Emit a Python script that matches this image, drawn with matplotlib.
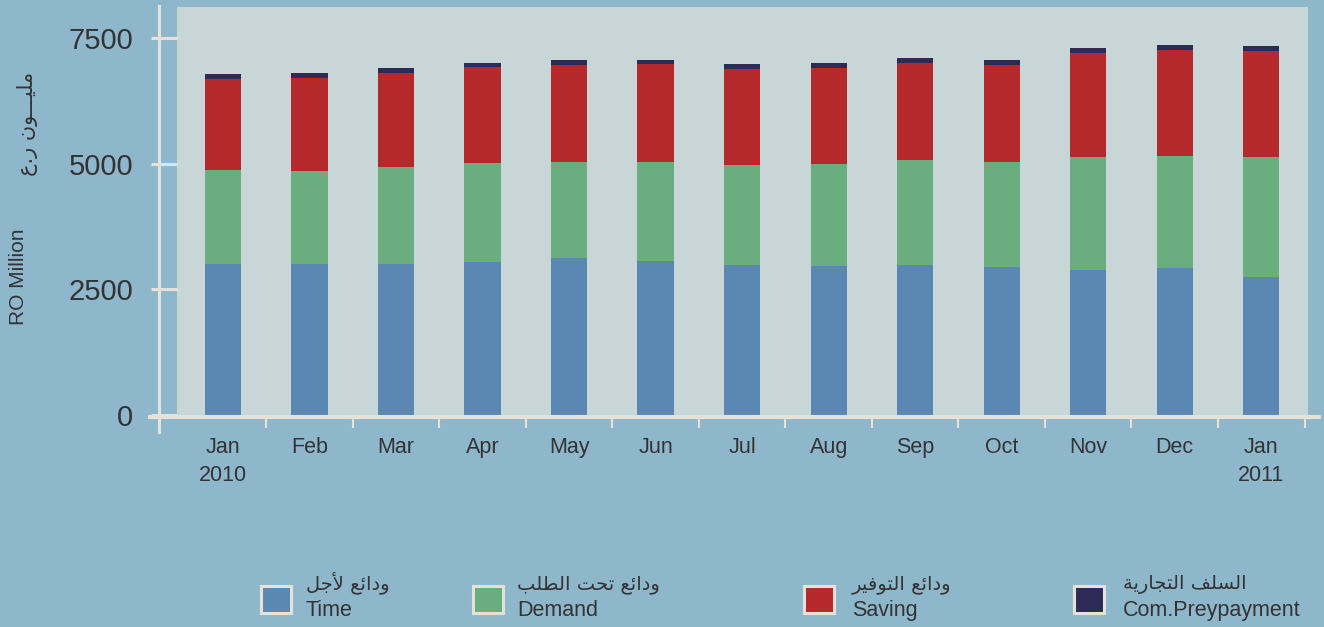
import matplotlib
matplotlib.use("Agg")
import matplotlib.pyplot as plt
from matplotlib.lines import Line2D
from matplotlib.patches import Rectangle
import numpy as np

# data (RO million)
months = ["Jan\n2010", "Feb", "Mar", "Apr", "May", "Jun", "Jul",
          "Aug", "Sep", "Oct", "Nov", "Dec", "Jan\n2011"]
time_dep = [3010, 3010, 3010, 3050, 3130, 3070, 2990, 2970, 2990, 2950, 2890, 2930, 2750]
demand = [1860, 1850, 1920, 1960, 1900, 1960, 1980, 2020, 2080, 2080, 2240, 2220, 2380]
saving = [1810, 1850, 1870, 1920, 1940, 1960, 1920, 1920, 1940, 1940, 2080, 2120, 2120]
com_prepay = [100, 100, 100, 80, 100, 80, 100, 100, 100, 100, 100, 100, 100]

series_en = ["Time", "Demand", "Saving", "Com.Preypayment"]
series_ar = ["ودائع لأجل", "ودائع تحت الطلب", "ودائع التوفير", "السلف التجارية"]
colors = ["#5b88b2", "#6aad7e", "#b5292c", "#2d2a55"]

BG = "#8fb7cc"
PANEL = "#c8d6d8"
CREAM = "#e6e2d8"
TXT = "#333333"

# --- tiny Arabic shaper (matplotlib does no shaping / bidi) ---
FORMS = {
    'ا': ('\uFE8D', '\uFE8E', None, None),
    'أ': ('\uFE83', '\uFE84', None, None),
    'ب': ('\uFE8F', '\uFE90', '\uFE91', '\uFE92'),
    'ة': ('\uFE93', '\uFE94', None, None),
    'ت': ('\uFE95', '\uFE96', '\uFE97', '\uFE98'),
    'ج': ('\uFE9D', '\uFE9E', '\uFE9F', '\uFEA0'),
    'ح': ('\uFEA1', '\uFEA2', '\uFEA3', '\uFEA4'),
    'د': ('\uFEA9', '\uFEAA', None, None),
    'ر': ('\uFEAD', '\uFEAE', None, None),
    'س': ('\uFEB1', '\uFEB2', '\uFEB3', '\uFEB4'),
    'ط': ('\uFEC1', '\uFEC2', '\uFEC3', '\uFEC4'),
    'ع': ('\uFEC9', '\uFECA', '\uFECB', '\uFECC'),
    'ف': ('\uFED1', '\uFED2', '\uFED3', '\uFED4'),
    'ل': ('\uFEDD', '\uFEDE', '\uFEDF', '\uFEE0'),
    'م': ('\uFEE1', '\uFEE2', '\uFEE3', '\uFEE4'),
    'ن': ('\uFEE5', '\uFEE6', '\uFEE7', '\uFEE8'),
    'و': ('\uFEED', '\uFEEE', None, None),
    'ي': ('\uFEF1', '\uFEF2', '\uFEF3', '\uFEF4'),
    'ئ': ('\uFE89', '\uFE8A', '\uFE8B', '\uFE8C'),
    'ـ': ('ـ', 'ـ', 'ـ', 'ـ'),
}
LAM_ALEF = {'ا': ('\uFEFB', '\uFEFC'), 'أ': ('\uFEF7', '\uFEF8')}


def shape(text):
    out = []
    i = 0
    prev_joins = False
    while i < len(text):
        c = text[i]
        if c not in FORMS:
            out.append(c)
            prev_joins = False
            i += 1
            continue
        if c == 'ل' and i + 1 < len(text) and text[i + 1] in LAM_ALEF:
            out.append(LAM_ALEF[text[i + 1]][1 if prev_joins else 0])
            prev_joins = False
            i += 2
            continue
        nxt = text[i + 1] if i + 1 < len(text) else ''
        to_next = FORMS[c][2] is not None and nxt in FORMS
        if prev_joins and to_next:
            f = FORMS[c][3]
        elif prev_joins:
            f = FORMS[c][1]
        elif to_next:
            f = FORMS[c][2]
        else:
            f = FORMS[c][0]
        out.append(f)
        prev_joins = to_next
        i += 1
    return ''.join(reversed(out))


plt.rcParams['font.family'] = ['Liberation Sans', 'DejaVu Sans']
AR_FONT = ['DejaVu Sans']

W, H = 1324, 627
fig = plt.figure(figsize=(W / 100, H / 100), dpi=100, facecolor=BG)


def fx(x):
    return x / W


def fy(y):
    return 1 - y / H


ax = fig.add_axes([fx(177), fy(415), fx(1308) - fx(177), fy(7) - fy(415)])
ax.set_facecolor(PANEL)

x = np.arange(len(months))
bottom = np.zeros(len(months))
for vals, col in zip([time_dep, demand, saving, com_prepay], colors):
    ax.bar(x, vals, 0.42, bottom=bottom, color=col, zorder=2)
    bottom += np.array(vals)

ax.set_xlim(-0.532, 12.54)
ax.set_ylim(0, 8120)
for s in ax.spines.values():
    s.set_visible(False)

ax.set_yticks([0, 2500, 5000, 7500])
ax.tick_params(axis='y', direction='out', length=18.7, width=2.2, color=CREAM,
               pad=13, labelsize=21, labelcolor=TXT)

ax.set_xticks(x)
ax.set_xticklabels(months, fontsize=15.5, color=TXT, linespacing=1.45)
ax.tick_params(axis='x', which='major', length=0, pad=16)
ax.set_xticks(np.append(x[:-1] + 0.5, 12.5), minor=True)
ax.tick_params(axis='x', which='minor', direction='out', length=9.4, width=1.5, color=CREAM)

# axis lines drawn like the original (extending past the panel)
fig.add_artist(Line2D([fx(150), fx(1319)], [fy(416.5), fy(416.5)], color=CREAM, lw=2.9))
fig.add_artist(Line2D([fx(158.7), fx(158.7)], [fy(6), fy(432)], color=CREAM, lw=2.2))

# y axis titles
fig.text(fx(19), fy(277), "RO Million", rotation=90, ha='center', va='center',
         fontsize=15, color=TXT)
fig.text(fx(27), fy(124), shape("مليـــون ر.ع"), rotation=90, ha='center', va='center',
         fontsize=15, color=TXT, family=AR_FONT)

# legend
patch_x = [259, 471, 803, 1072]
text_x = [306, 517, 852, 1123]
for px, tx, col, en, ar in zip(patch_x, text_x, colors, series_en, series_ar):
    fig.add_artist(Rectangle((fx(px + 1.5), fy(612.5)), fx(30), fy(0) - fy(27),
                             facecolor=col, edgecolor=CREAM, lw=2.2))
    fig.text(fx(tx), fy(616), en, ha='left', va='baseline', fontsize=15.5, color=TXT)
    fig.text(fx(tx), fy(589), shape(ar), ha='left', va='baseline', fontsize=14,
             color=TXT, family=AR_FONT)

fig.savefig("out.png", dpi=100, facecolor=BG)
